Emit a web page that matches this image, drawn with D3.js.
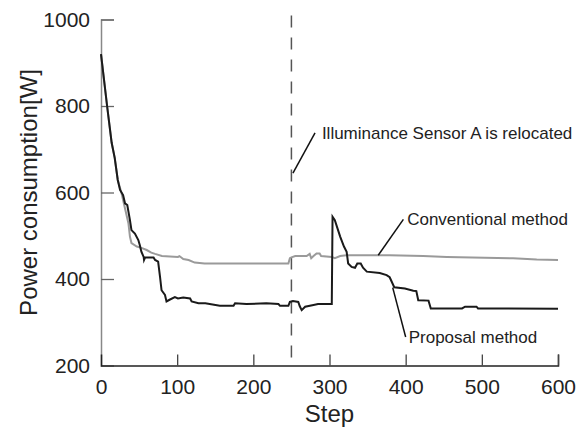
<!DOCTYPE html>
<html lang="en">
<head>
  <meta charset="UTF-8">
  <title>Power consumption</title>
  <style>
    body { margin: 0; background: #fff; }
    text { font-family: "Liberation Sans", Arial, sans-serif; fill: #222; }
  </style>
</head>
<body>
<div id="chart"></div>

<script src="https://cdn.jsdelivr.net/npm/d3@7"></script>
<script>
  // Proposal method (black)
  const PROPOSAL_STEP = [0, 8, 14, 18, 22, 25, 29, 31.5, 34.5, 38, 40, 44.5, 49, 51, 53, 56, 56.5, 58, 69, 71,
    75, 77.5, 79.5, 84, 86, 90, 97, 101, 108, 117, 119, 128, 137, 156, 174, 176, 191, 217, 233, 235,
    246, 248, 252, 259, 261, 263.5, 268, 279, 285, 303, 304, 307, 314, 319, 322.5, 324.5, 329, 333.5, 336.5, 341,
    344, 349, 366, 375, 379, 385, 399, 410, 414, 416.5, 430, 433, 474, 478, 493, 495, 600];
  const PROPOSAL_VALUE = [920, 800, 715, 680, 629, 606, 594, 575, 571, 536, 513, 505, 490, 478, 463, 451, 444, 450, 450, 444,
    440, 405, 374, 363, 348, 352, 358, 355, 357, 355, 348, 344, 344, 338, 338, 344, 342, 344, 342, 338,
    338, 347, 349, 347, 337, 328, 336, 340, 342, 342, 544, 536, 498, 475, 463, 436, 428, 426, 436, 436,
    426, 417, 414, 409, 404, 381, 378, 373, 372, 351, 350, 332, 332, 336, 336, 332, 331];

  // Conventional method (gray)
  const CONV_STEP = [0, 8, 14, 18, 22, 27, 31, 36, 38, 40, 47, 53, 60, 66, 71, 80, 101, 103, 108, 115,
    123, 136, 246, 248, 250, 255, 270, 274, 276, 279, 283, 287, 289, 303, 307, 314, 322, 379, 423, 454,
    541, 572, 600];
  const CONV_VALUE = [920, 800, 715, 680, 629, 598, 567, 529, 498, 483, 475, 472, 467, 461, 458, 453, 451, 453, 446, 444,
    438, 436, 436, 448, 450, 453, 453, 458, 448, 453, 459, 459, 453, 451, 448, 453, 455, 455, 453, 451,
    448, 445, 444];

  const X_TICKS = [0, 100, 200, 300, 400, 500, 600];
  const Y_TICKS = [200, 400, 600, 800, 1000];
  const RELOCATE_STEP = 250;

  const W = 587, H = 428;
  const margin = {top: 19.5, right: 29, bottom: 62.5, left: 101},
    width = W - margin.left - margin.right,
    height = H - margin.top - margin.bottom;

  const svg = d3.select("#chart")
    .append("svg")
    .attr("width", W)
    .attr("height", H);

  const g = svg.append("g")
    .attr("transform", "translate(" + margin.left + "," + margin.top + ")");

  const x = d3.scaleLinear().domain([0, 600]).range([0, width]);
  const y = d3.scaleLinear().domain([200, 1000]).range([height, 0]);

  // Y axis: gray line, ticks pointing inward
  const yAxis = g.append("g")
    .call(d3.axisLeft(y).tickValues(Y_TICKS).tickFormat(d3.format("d")).tickSize(-13).tickPadding(11));
  yAxis.select(".domain").attr("stroke", "#888").attr("stroke-width", 1.5);
  yAxis.selectAll(".tick line").attr("stroke", "#666").attr("stroke-width", 1.3);
  yAxis.selectAll(".tick").filter(d => d === 200).select("line").remove();
  yAxis.selectAll("text")
    .style("font-family", "Liberation Sans, Arial, sans-serif")
    .style("font-size", "21px")
    .attr("fill", "#222");

  // X axis: ticks pointing upward
  const xAxis = g.append("g")
    .attr("transform", "translate(0," + height + ")")
    .call(d3.axisBottom(x).tickValues(X_TICKS).tickFormat(d3.format("d")).tickSize(-11).tickPadding(14));
  xAxis.select(".domain").attr("stroke", "#222").attr("stroke-width", 1.5);
  xAxis.selectAll(".tick line").attr("stroke", "#444").attr("stroke-width", 1.3);
  xAxis.selectAll(".tick").filter(d => d === 0).select("line").remove();
  xAxis.selectAll("text")
    .style("font-family", "Liberation Sans, Arial, sans-serif")
    .style("font-size", "21px")
    .attr("fill", "#222");

  // axis titles
  g.append("text")
    .attr("x", x(300))
    .attr("y", height + 56)
    .attr("text-anchor", "middle")
    .style("font-size", "24px")
    .text("Step");

  g.append("text")
    .attr("transform", "translate(" + (37 - margin.left) + "," + (height / 2) + ") rotate(-90)")
    .attr("text-anchor", "middle")
    .style("font-size", "24px")
    .text("Power consumption[W]");

  // dashed marker at relocation step
  g.append("line")
    .attr("x1", x(RELOCATE_STEP)).attr("x2", x(RELOCATE_STEP))
    .attr("y1", -4).attr("y2", height)
    .attr("stroke", "#555")
    .attr("stroke-width", 1.5)
    .attr("stroke-dasharray", "12,10");

  const line = d3.line()
    .x(d => x(d[0]))
    .y(d => y(d[1]));

  const conv = CONV_STEP.map((s, i) => [s, CONV_VALUE[i]]);
  const prop = PROPOSAL_STEP.map((s, i) => [s, PROPOSAL_VALUE[i]]);

  g.append("path")
    .datum(conv)
    .attr("fill", "none")
    .attr("stroke", "#9a9a9a")
    .attr("stroke-width", 2)
    .attr("d", line);

  g.append("path")
    .datum(prop)
    .attr("fill", "none")
    .attr("stroke", "#1a1a1a")
    .attr("stroke-width", 2)
    .attr("d", line);

  // annotations with leader lines
  function note(x1, y1, x2, y2, tx, ty, label) {
    g.append("line")
      .attr("x1", x(x1)).attr("y1", y(y1))
      .attr("x2", x(x2)).attr("y2", y(y2))
      .attr("stroke", "#111")
      .attr("stroke-width", 1.5);
    g.append("text")
      .attr("x", x(tx))
      .attr("y", y(ty))
      .attr("dy", "0.35em")
      .style("font-size", "17px")
      .text(label);
  }

  note(252, 645, 281, 738, 290, 738, "Illuminance Sensor A is relocated");
  note(364, 455, 397, 538, 402, 538, "Conventional method");
  note(383, 380, 400, 266, 404, 266, "Proposal method");
</script>
</body>
</html>
